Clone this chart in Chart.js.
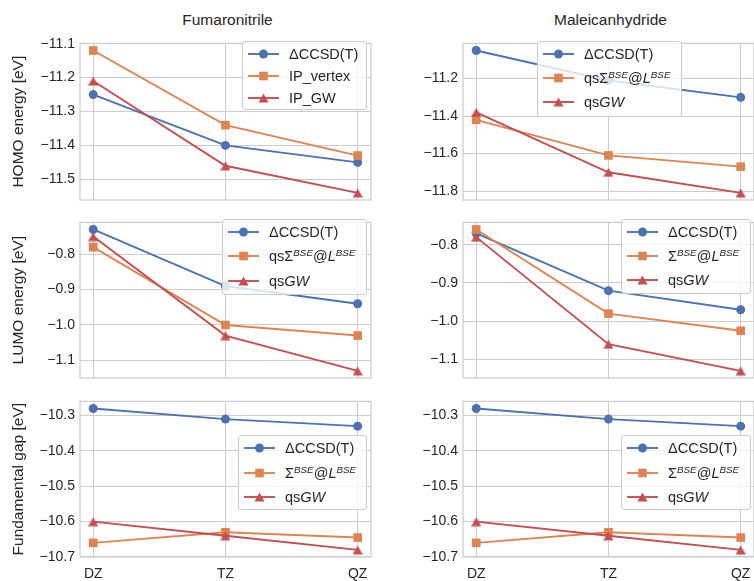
<!DOCTYPE html>
<html>
<head>
<meta charset="utf-8">
<script src="https://cdn.jsdelivr.net/npm/chart.js@4.4.1/dist/chart.umd.min.js"></script>
<style>
  body { margin: 0; width: 754px; height: 581px; overflow: hidden; position: relative; background: #fff;
         font-family: "Liberation Sans", Arial, sans-serif; color: #262626; }
  canvas { position: absolute; }
  .title { position: absolute; top: 11px; width: 295px; text-align: center; font-size: 15.5px; }
  .leg { position: absolute; box-sizing: border-box; border: 1px solid #cccccc; border-radius: 3px;
         background: rgba(255,255,255,0.8); font-size: 14.5px; }
  .leg .row { position: absolute; left: 0; height: 20px; width: 100%; }
  .leg svg { position: absolute; left: 5px; top: 0; }
  .leg span { position: absolute; left: 46px; top: 0; line-height: 20px; white-space: nowrap; }
  .leg sup { font-size: 68%; font-style: italic; line-height: 0; vertical-align: 0.55em; }
</style>
</head>
<body>
<div class="title" style="left:80px">Fumaronitrile</div>
<div class="title" style="left:463px">Maleicanhydride</div>
<script>
const basisSets = ["DZ", "TZ", "QZ"];

// Fumaronitrile
const fumHomoCC = [-11.25, -11.40, -11.45];
const fumHomoVertex = [-11.12, -11.34, -11.43];
const fumHomoGW = [-11.21, -11.46, -11.54];
const fumLumoCC = [-0.73, -0.89, -0.94];
const fumLumoBSE = [-0.78, -1.00, -1.03];
const fumLumoGW = [-0.75, -1.03, -1.13];
const fumGapCC = [-10.28, -10.31, -10.33];
const fumGapBSE = [-10.66, -10.63, -10.645];
const fumGapGW = [-10.60, -10.64, -10.68];

// Maleicanhydride
const malHomoCC = [-11.05, -11.21, -11.30];
const malHomoBSE = [-11.42, -11.61, -11.67];
const malHomoGW = [-11.38, -11.70, -11.81];
const malLumoCC = [-0.77, -0.92, -0.97];
const malLumoBSE = [-0.76, -0.98, -1.025];
const malLumoGW = [-0.78, -1.06, -1.13];
const malGapCC = [-10.28, -10.31, -10.33];
const malGapBSE = [-10.66, -10.63, -10.645];
const malGapGW = [-10.60, -10.64, -10.68];

const yLabels = ["HOMO energy [eV]", "LUMO energy [eV]", "Fundamental gap [eV]"];
const sigmaQs = "qsΣ<sup>BSE</sup>@<i>L</i><sup>BSE</sup>";
const sigma = "Σ<sup>BSE</sup>@<i>L</i><sup>BSE</sup>";
const qsGW = "qs<i>GW</i>";

const colors = ["#4c72b0", "#dd8452", "#c44e52"];
const gridCol = "#cccccc";

// matplotlib style triangle marker
const tri = document.createElement("canvas");
tri.width = 10; tri.height = 10;
(function () {
  const c = tri.getContext("2d");
  c.fillStyle = colors[2];
  c.beginPath(); c.moveTo(5, 0.5); c.lineTo(10, 9.5); c.lineTo(0, 9.5); c.closePath(); c.fill();
})();

const frame = {
  id: "frame",
  beforeDatasetsDraw(chart) {
    const a = chart.chartArea, c = chart.ctx;
    c.save();
    c.strokeStyle = gridCol; c.lineWidth = 1.25;
    c.strokeRect(a.left, a.top, a.right - a.left, a.bottom - a.top);
    c.restore();
  }
};

function panel(left, top, h, series, yTitle, step, showX) {
  const cv = document.createElement("canvas");
  cv.width = 377; cv.height = h + 27;
  cv.style.left = (left - 80) + "px"; cv.style.top = (top - 2) + "px";
  document.body.appendChild(cv);

  let all = [].concat(...series);
  let lo = Math.min(...all), hi = Math.max(...all), m = (hi - lo) * 0.05;
  const styles = ["circle", "rect", tri];
  const radii = [4.5, 6.1, 5];

  new Chart(cv, {
    type: "line",
    data: {
      datasets: series.map((s, i) => ({
        data: s.map((v, k) => ({ x: k, y: v })),
        borderColor: colors[i],
        backgroundColor: colors[i],
        borderWidth: 1.9,
        pointStyle: styles[i],
        pointRadius: radii[i],
        pointBorderWidth: 0,
        order: 3 - i,
        clip: false
      }))
    },
    options: {
      responsive: false,
      devicePixelRatio: 1,
      animation: false,
      layout: { padding: { top: 2, right: 2, left: 0, bottom: 0 } },
      plugins: { legend: { display: false }, tooltip: { enabled: false } },
      scales: {
        x: {
          type: "linear", min: -0.1, max: 2.1,
          afterFit: (s) => { s.height = 25; },
          border: { display: false },
          grid: { color: gridCol, lineWidth: 1, drawTicks: false },
          ticks: {
            display: showX, stepSize: 1, includeBounds: false, padding: 9,
            color: "#262626", font: { family: "Liberation Sans", size: 14 },
            callback: (v) => basisSets[v]
          }
        },
        y: {
          min: lo - m - 1e-6, max: hi + m + 1e-6,
          afterFit: (s) => { s.width = 80; },
          border: { display: false },
          grid: { color: gridCol, lineWidth: 1, drawTicks: false },
          title: {
            display: !!yTitle, text: yTitle, color: "#262626", padding: { top: 9 },
            font: { family: "Liberation Sans", size: 15.5 }
          },
          ticks: {
            stepSize: step, includeBounds: false, padding: 5,
            color: "#262626", font: { family: "Liberation Sans", size: 14 },
            callback: (v) => v.toFixed(1).replace("-", "\u2212")
          }
        }
      }
    },
    plugins: [frame]
  });
}

function markerSvg(i) {
  const col = colors[i];
  let shape;
  if (i == 0) shape = `<circle cx="15.5" cy="10" r="4.5" fill="${col}"/>`;
  else if (i == 1) shape = `<rect x="11.2" y="5.7" width="8.6" height="8.6" fill="${col}"/>`;
  else shape = `<polygon points="15.5,5.5 20.5,14.5 10.5,14.5" fill="${col}"/>`;
  return `<svg width="31" height="20"><line x1="0" y1="10" x2="31" y2="10" stroke="${col}" stroke-width="1.9"/>${shape}</svg>`;
}

function legend(x, y, w, h, y0, dy, labels) {
  const box = document.createElement("div");
  box.className = "leg";
  box.style.cssText = `left:${x}px;top:${y}px;width:${w}px;height:${h}px`;
  labels.forEach((lab, i) => {
    const row = document.createElement("div");
    row.className = "row";
    row.style.top = (y0 + i * dy - 11) + "px";
    row.innerHTML = markerSvg(i) + "<span>" + lab + "</span>";
    box.appendChild(row);
  });
  document.body.appendChild(box);
}

panel(80, 32, 168, [fumHomoCC, fumHomoVertex, fumHomoGW], yLabels[0], 0.1, false);
panel(80, 211, 167, [fumLumoCC, fumLumoBSE, fumLumoGW], yLabels[1], 0.1, false);
panel(80, 390, 167, [fumGapCC, fumGapBSE, fumGapGW], yLabels[2], 0.1, true);
panel(463, 32, 168, [malHomoCC, malHomoBSE, malHomoGW], "", 0.2, false);
panel(463, 211, 167, [malLumoCC, malLumoBSE, malLumoGW], "", 0.1, false);
panel(463, 390, 167, [malGapCC, malGapBSE, malGapGW], "", 0.1, true);

legend(242, 41, 125, 69, 13, 22, ["ΔCCSD(T)", "IP_vertex", "IP_GW"]);
legend(537, 41, 145, 76, 12.5, 24.3, ["ΔCCSD(T)", sigmaQs, qsGW]);
legend(222, 219, 145, 76, 12.7, 24.5, ["ΔCCSD(T)", sigmaQs, qsGW]);
legend(621, 219, 130, 75, 12.7, 24.2, ["ΔCCSD(T)", sigma, qsGW]);
legend(238, 435, 129, 75, 13.3, 24.2, ["ΔCCSD(T)", sigma, qsGW]);
legend(621, 435, 130, 75, 13.3, 24.2, ["ΔCCSD(T)", sigma, qsGW]);
</script>
</body>
</html>
